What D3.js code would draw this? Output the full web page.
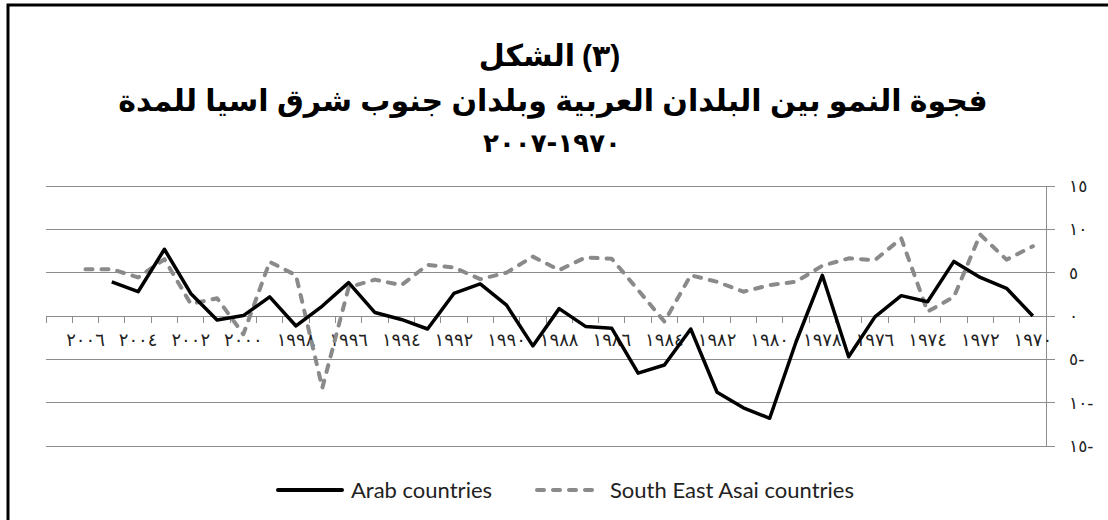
<!DOCTYPE html>
<html>
<head>
<meta charset="utf-8">
<script src="https://cdn.jsdelivr.net/npm/d3@7/dist/d3.min.js"></script>
<style>
  body { margin: 0; background: #fff; }
  svg { display: block; }
</style>
</head>
<body>
<svg id="chart" width="1108" height="520"></svg>
<script>
// years, left to right (the category axis is reversed)
const years = [2007, 2006, 2005, 2004, 2003, 2002, 2001, 2000, 1999, 1998,
  1997, 1996, 1995, 1994, 1993, 1992, 1991, 1990, 1989, 1988,
  1987, 1986, 1985, 1984, 1983, 1982, 1981, 1980, 1979, 1978,
  1977, 1976, 1975, 1974, 1973, 1972, 1971, 1970];

const arab = [null, null, 3.95, 2.8, 7.7, 2.6, -0.45, 0.05, 2.2, -1.15,
  1.15, 3.85, 0.4, -0.4, -1.5, 2.6, 3.7, 1.25, -3.45, 0.85,
  -1.2, -1.42, -6.6, -5.65, -1.5, -8.8, -10.6, -11.8, -3.0, 4.7,
  -4.7, -0.1, 2.35, 1.65, 6.3, 4.45, 3.2, 0];

const seAsia = [null, 5.4, 5.4, 4.45, 6.55, 1.4, 2.05, -2.1, 6.25, 4.7,
  -8.3, 3.3, 4.2, 3.55, 5.9, 5.6, 4.25, 5.0, 6.85, 5.3,
  6.75, 6.6, 3.0, -0.65, 4.7, 3.95, 2.8, 3.57, 3.95, 5.8,
  6.65, 6.45, 8.95, 0.5, 2.2, 9.4, 6.5, 8.05];

// every other year gets a label
const xTickYears = [2006, 2004, 2002, 2000, 1998, 1996, 1994, 1992, 1990, 1988,
  1986, 1984, 1982, 1980, 1978, 1976, 1974, 1972, 1970];
const xTickLabels = ['٢٠٠٦', '٢٠٠٤', '٢٠٠٢', '٢٠٠٠', '١٩٩٨', '١٩٩٦', '١٩٩٤', '١٩٩٢', '١٩٩٠', '١٩٨٨',
  '١٩٨٦', '١٩٨٤', '١٩٨٢', '١٩٨٠', '١٩٧٨', '١٩٧٦', '١٩٧٤', '١٩٧٢', '١٩٧٠'];

const yTicks = [15, 10, 5, 0, -5, -10, -15];
const yTickLabels = ['١٥', '١٠', '٥', '٠', '٥-', '١٠-', '١٥-'];

const titleWord = 'الشكل';
const titleNum = '(٣)';
const titleLine2 = 'فجوة النمو بين البلدان العربية وبلدان جنوب شرق اسيا للمدة';
const titleLine3 = '١٩٧٠-٢٠٠٧';
const seriesNames = ['Arab countries', 'South East Asai countries'];

const svg = d3.select('#chart');
const plotLeft = 46, plotRight = 1046, plotTop = 186, plotBottom = 446;

// frame round the whole figure
svg.append('rect')
  .attr('x', 8).attr('y', 5)
  .attr('width', 1140).attr('height', 560)
  .attr('fill', 'none')
  .attr('stroke', '#000')
  .attr('stroke-width', 3);

const x = d3.scaleBand().domain(years).range([plotLeft, plotRight]).padding(0);
const y = d3.scaleLinear().domain([-15, 15]).range([plotBottom, plotTop]);
const cx = d => x(d) + x.bandwidth() / 2;

// title
const title = svg.append('g')
  .attr('font-family', '"Liberation Sans", "DejaVu Sans", sans-serif')
  .attr('font-weight', 'bold')
  .attr('font-size', 30);

// first line is laid out left to right: the word, then the number in brackets
title.append('text')
  .attr('x', 575).attr('y', 66)
  .attr('text-anchor', 'end')
  .text(titleWord);
title.append('text')
  .attr('x', 582).attr('y', 66)
  .attr('direction', 'ltr')
  .attr('text-anchor', 'start')
  .text(titleNum);

title.append('text')
  .attr('x', 553).attr('y', 111)
  .attr('text-anchor', 'middle')
  .text(titleLine2);

title.append('text')
  .attr('x', 552).attr('y', 152)
  .attr('text-anchor', 'middle')
  .attr('font-family', '"DejaVu Sans", sans-serif')
  .attr('font-size', 26)
  .attr('letter-spacing', 8)
  .text(titleLine3);

// horizontal gridlines, running out past the value axis as outer ticks
svg.append('g')
  .selectAll('line')
  .data(yTicks)
  .enter()
  .append('line')
  .attr('x1', plotLeft).attr('x2', plotRight + 9)
  .attr('y1', d => y(d)).attr('y2', d => y(d))
  .attr('stroke', '#8c8c8c')
  .attr('stroke-width', 1)
  .attr('shape-rendering', 'crispEdges');

// value axis on the right
svg.append('line')
  .attr('x1', plotRight).attr('x2', plotRight)
  .attr('y1', plotTop).attr('y2', plotBottom)
  .attr('stroke', '#8c8c8c')
  .attr('shape-rendering', 'crispEdges');

svg.append('g')
  .selectAll('text')
  .data(yTicks)
  .enter()
  .append('text')
  .attr('x', 1069)
  .attr('y', d => y(d))
  .attr('dy', '0.35em')
  .attr('font-family', '"DejaVu Sans", sans-serif')
  .attr('font-size', 17)
  .attr('letter-spacing', 3)
  .attr('fill', '#222')
  .text((d, i) => yTickLabels[i]);

// category axis sits on zero, with tick marks hanging below
const xAxis = d3.axisBottom(x)
  .tickValues(xTickYears)
  .tickSize(0)
  .tickFormat((d, i) => xTickLabels[i]);

const gx = svg.append('g')
  .attr('transform', `translate(0,${y(0)})`)
  .call(xAxis);
gx.select('.domain').attr('stroke', '#8c8c8c');
gx.selectAll('text')
  .attr('y', 17)
  .attr('font-family', '"DejaVu Sans", sans-serif')
  .attr('font-size', 18)
  .attr('letter-spacing', 5)
  .attr('fill', '#222');

const bounds = years.map(d => x(d)).concat([plotRight]);
gx.append('g')
  .selectAll('line')
  .data(bounds)
  .enter()
  .append('line')
  .attr('x1', d => d).attr('x2', d => d)
  .attr('y1', 0).attr('y2', 7)
  .attr('stroke', '#8c8c8c')
  .attr('shape-rendering', 'crispEdges');

// the two series
const line = d3.line()
  .defined(d => d[1] !== null)
  .x(d => cx(d[0]))
  .y(d => y(d[1]));

svg.append('path')
  .datum(years.map((yr, i) => [yr, seAsia[i]]))
  .attr('d', line)
  .attr('fill', 'none')
  .attr('stroke', '#8a8a8a')
  .attr('stroke-width', 4)
  .attr('stroke-dasharray', '7,9')
  .attr('stroke-linecap', 'round')
  .attr('stroke-linejoin', 'round');

svg.append('path')
  .datum(years.map((yr, i) => [yr, arab[i]]))
  .attr('d', line)
  .attr('fill', 'none')
  .attr('stroke', '#000')
  .attr('stroke-width', 3.5)
  .attr('stroke-linejoin', 'round');

// legend
const legend = svg.append('g').attr('transform', 'translate(0,490)');
const legendX = [278, 537];
const legendStyle = [
  { stroke: '#000', dash: null, cap: 'round' },
  { stroke: '#8a8a8a', dash: '7,9', cap: 'round' }
];
seriesNames.forEach((name, i) => {
  legend.append('line')
    .attr('x1', legendX[i]).attr('x2', legendX[i] + 64)
    .attr('y1', 0).attr('y2', 0)
    .attr('stroke', legendStyle[i].stroke)
    .attr('stroke-width', 4)
    .attr('stroke-dasharray', legendStyle[i].dash)
    .attr('stroke-linecap', legendStyle[i].cap);
  legend.append('text')
    .attr('x', legendX[i] + 73)
    .attr('y', 0)
    .attr('dy', '0.35em')
    .attr('font-family', 'Lato, sans-serif')
    .attr('font-size', 22)
    .attr('fill', '#222')
    .text(name);
});
</script>
</body>
</html>
